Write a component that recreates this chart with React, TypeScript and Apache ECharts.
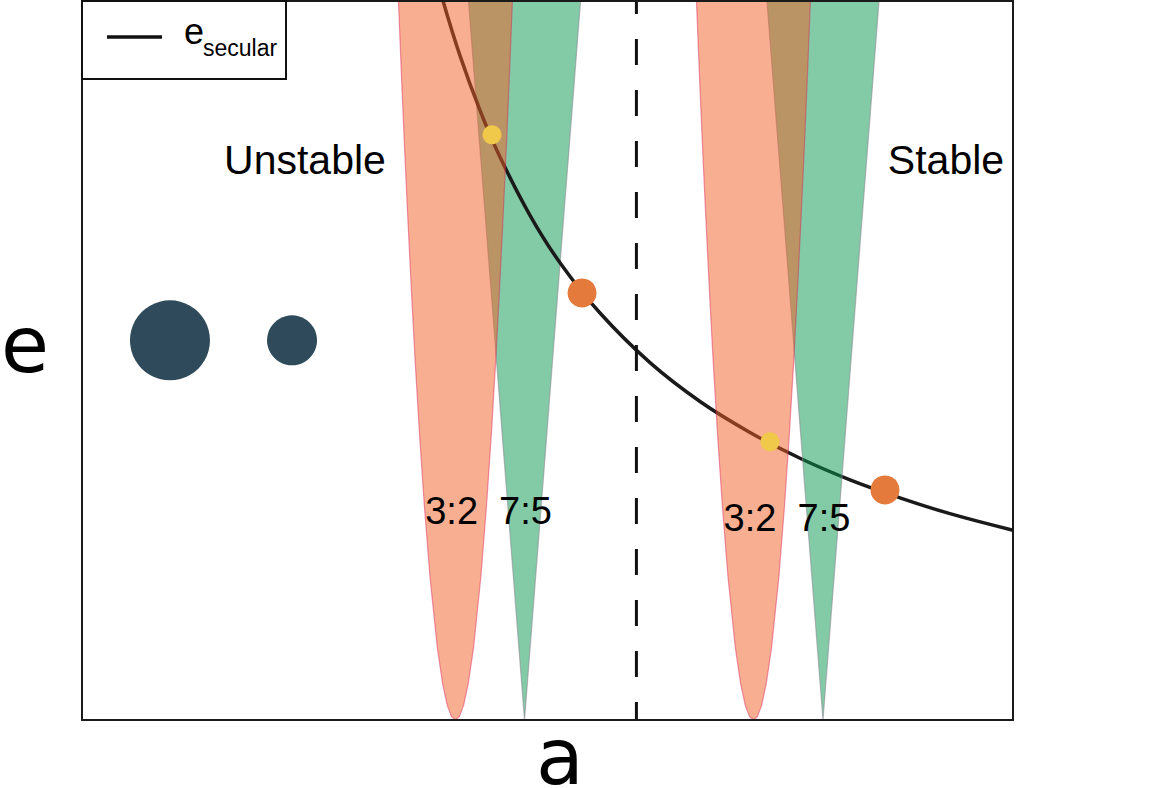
import React, { useEffect, useRef } from "react";
import * as echarts from "echarts";

// semi-major axis a (0..100 across the frame), eccentricity e (0..1)
const curveA = [38.78, 40.6, 42.75, 44.9, 48.12, 51.34, 55.64, 61.01, 66.38, 71.75, 77.12, 82.49, 87.86, 93.23, 100];
const curveE = [1.0, 0.924, 0.848, 0.783, 0.702, 0.636, 0.566, 0.497, 0.443, 0.4, 0.364, 0.334, 0.309, 0.287, 0.264];

// resonance widths (half-widths in a) at eccentricity levels
const resE = [0, 0.005, 0.02, 0.05, 0.1, 0.2, 0.3, 0.4, 0.5, 0.6, 0.7, 0.8, 0.9, 1.0];
const halfWidth32 = [0, 0.43, 0.87, 1.37, 1.94, 2.74, 3.35, 3.87, 4.33, 4.74, 5.12, 5.48, 5.81, 6.12];
const halfWidth75 = [0, 0.03, 0.12, 0.3, 0.6, 1.2, 1.81, 2.41, 3.01, 3.61, 4.21, 4.82, 5.42, 6.02];
const center32 = [40.11, 72.12];
const center75 = [47.53, 79.59];
const resLabels = [
  { name: "3:2", a: 39.7, e: 0.291 },
  { name: "7:5", a: 47.64, e: 0.291 },
  { name: "3:2", a: 71.75, e: 0.281 },
  { name: "7:5", a: 79.7, e: 0.281 },
];

const planetsBig = [
  { a: 9.45, e: 0.528, size: 80 },
  { a: 22.56, e: 0.528, size: 50 },
];
const yellowDots = [
  [44.04, 0.814],
  [73.9, 0.387],
];
const orangeDots = [
  [53.71, 0.594],
  [86.25, 0.32],
];
const boundaryA = 59.55;
const regionLabels = [
  { name: "Unstable", a: 23.95, e: 0.779 },
  { name: "Stable", a: 92.8, e: 0.779 },
];

function outline(center: number, hw: number[]): number[][] {
  const left = resE.map((e, i) => [center - hw[i], e]);
  const right = resE.map((e, i) => [center + hw[i], e]).reverse();
  return left.concat(right);
}

function polygonSeries(points: number[][], fill: string, stroke: string, z: number) {
  return {
    type: "custom",
    z,
    silent: true,
    coordinateSystem: "cartesian2d",
    data: points,
    encode: { x: 0, y: 1 },
    clip: true,
    renderItem: (params: any, api: any) => {
      if (params.dataIndex !== 0) return null;
      return {
        type: "polygon",
        shape: { points: points.map((p) => api.coord(p)) },
        style: { fill, stroke, lineWidth: 1.2 },
      };
    },
  };
}

function textSeries(items: { name: string; a: number; e: number }[], fontSize: number) {
  return {
    type: "custom",
    z: 8,
    silent: true,
    coordinateSystem: "cartesian2d",
    data: items.map((l) => [l.a, l.e]),
    encode: { x: 0, y: 1 },
    renderItem: (params: any, api: any) => {
      const p = api.coord([api.value(0), api.value(1)]);
      return {
        type: "text",
        x: p[0],
        y: p[1],
        style: {
          text: items[params.dataIndex].name,
          fontFamily: "Liberation Sans",
          fontSize,
          fill: "#000",
          align: "center",
          verticalAlign: "middle",
        },
      };
    },
  };
}

const SALMON = "rgba(241,93,35,0.5)";
const SALMON_EDGE = "rgba(220,30,90,0.45)";
const GREEN = "rgba(5,151,77,0.5)";
const GREEN_EDGE = "rgba(140,140,150,0.6)";

export default function App() {
  const ref = useRef<HTMLDivElement>(null);
  useEffect(() => {
    if (!ref.current) return;
    const chart = echarts.init(ref.current, null, { renderer: "svg" });
    const axisCommon = {
      type: "value",
      axisTick: { show: false },
      axisLabel: { show: false },
      splitLine: { show: false },
      axisLine: { show: true, onZero: false, lineStyle: { color: "#1a1a1a", width: 2 } },
      z: 20,
    };
    const option: any = {
      animation: false,
      backgroundColor: "#ffffff",
      grid: { left: 82, right: 162, top: 1, bottom: 68 },
      xAxis: [
        { ...axisCommon, min: 0, max: 100, position: "bottom" },
        { ...axisCommon, min: 0, max: 100, position: "top" },
      ],
      yAxis: [
        { ...axisCommon, min: 0, max: 1, position: "left" },
        { ...axisCommon, min: 0, max: 1, position: "right" },
      ],
      series: [
        polygonSeries(outline(center75[0], halfWidth75), GREEN, GREEN_EDGE, 2),
        {
          type: "line",
          z: 3,
          data: curveA.map((a, i) => [a, curveE[i]]),
          smooth: 0.4,
          showSymbol: false,
          symbol: "none",
          lineStyle: { color: "#1a1a1a", width: 3.5 },
          silent: true,
        },
        polygonSeries(outline(center75[1], halfWidth75), GREEN, GREEN_EDGE, 4),
        polygonSeries(outline(center32[0], halfWidth32), SALMON, SALMON_EDGE, 5),
        polygonSeries(outline(center32[1], halfWidth32), SALMON, SALMON_EDGE, 5),
        {
          type: "line",
          z: 6,
          data: [
            [boundaryA, 1],
            [boundaryA, 0],
          ],
          symbol: "none",
          lineStyle: { color: "#111", width: 3, type: [26, 25], dashOffset: 13 },
          silent: true,
        },
        {
          type: "scatter",
          z: 7,
          data: planetsBig.map((p) => ({ value: [p.a, p.e], symbolSize: p.size })),
          itemStyle: { color: "#2F4B5B", opacity: 1 },
          silent: true,
        },
        {
          type: "scatter",
          z: 7,
          data: yellowDots,
          symbolSize: 19,
          itemStyle: { color: "#F0C94A", opacity: 1 },
          silent: true,
        },
        {
          type: "scatter",
          z: 7,
          data: orangeDots,
          symbolSize: 29,
          itemStyle: { color: "#E47A3C", opacity: 1 },
          silent: true,
        },
        textSeries(resLabels, 38),
        textSeries(regionLabels, 41),
      ],
      graphic: [
        {
          type: "text",
          z: 30,
          style: {
            text: "e",
            x: 25,
            y: 345,
            fontFamily: "DejaVu Sans",
            fontSize: 78,
            fill: "#000",
            align: "center",
            verticalAlign: "middle",
          },
        },
        {
          type: "text",
          z: 30,
          style: {
            text: "a",
            x: 560,
            y: 757,
            fontFamily: "DejaVu Sans",
            fontSize: 78,
            fill: "#000",
            align: "center",
            verticalAlign: "middle",
          },
        },
        {
          type: "group",
          z: 40,
          children: [
            {
              type: "rect",
              z: 40,
              shape: { x: 82, y: 1, width: 204, height: 78 },
              style: { fill: "#fff", stroke: "#111", lineWidth: 2 },
            },
            {
              type: "line",
              z: 41,
              shape: { x1: 107, y1: 37, x2: 162, y2: 37 },
              style: { stroke: "#111", lineWidth: 3.5 },
            },
            {
              type: "text",
              z: 41,
              style: {
                text: "e",
                x: 184,
                y: 31,
                fontFamily: "Liberation Sans",
                fontSize: 36,
                fill: "#000",
                align: "left",
                verticalAlign: "middle",
              },
            },
            {
              type: "text",
              z: 41,
              style: {
                text: "secular",
                x: 203,
                y: 48,
                fontFamily: "Liberation Sans",
                fontSize: 23,
                fill: "#000",
                align: "left",
                verticalAlign: "middle",
              },
            },
          ],
        },
      ],
    };
    chart.setOption(option);
    return () => chart.dispose();
  }, []);
  return (
    <div
      ref={ref}
      style={{ position: "absolute", left: 0, top: 0, width: 1175, height: 788 }}
    />
  );
}
